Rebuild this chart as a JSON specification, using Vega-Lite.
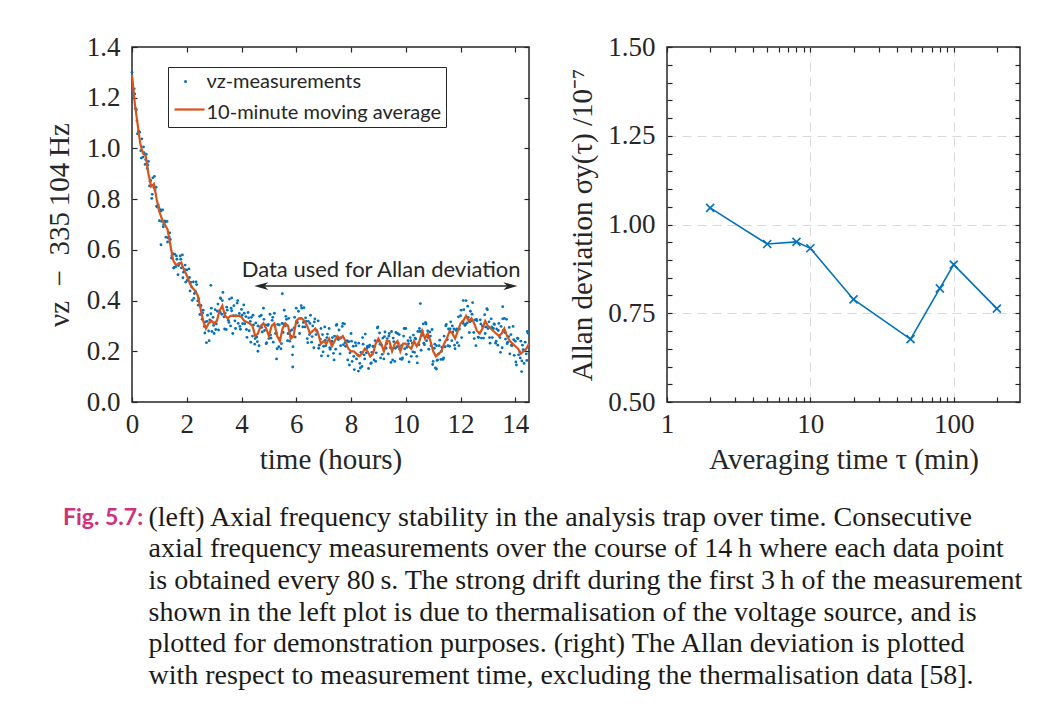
{
  "$schema": "https://vega.github.io/schema/vega-lite/v6.json",
  "background": "white",
  "padding": {"left": 44, "top": 32, "right": 5, "bottom": 5},
  "bounds": "flush",
  "spacing": 138,
  "resolve": {"scale": {"color": "independent", "shape": "independent", "fill": "independent", "stroke": "independent"}},
  "title": {
    "text": [
      "(left) Axial frequency stability in the analysis trap over time.  Consecutive",
      "axial frequency measurements over the course of 14\u2009h where each data point",
      "is obtained every 80\u2009s. The strong drift during the first 3\u2009h of the measurement",
      "shown in the left plot is due to thermalisation of the voltage source, and is",
      "plotted for demonstration purposes.  (right) The Allan deviation is plotted",
      "with respect to measurement time, excluding the thermalisation data [58]."
    ],
    "orient": "bottom",
    "anchor": "start",
    "frame": "bounds",
    "offset": -27,
    "dx": 104,
    "font": "Liberation Serif",
    "fontWeight": "normal",
    "fontSize": 28,
    "lineHeight": 31.6,
    "color": "#1a1a1a"
  },
  "config": {
    "view": {"stroke": "#262626", "strokeWidth": 1.5},
    "axis": {
      "domain": false,
      "grid": false,
      "labelFont": "Liberation Serif",
      "labelFontSize": 27,
      "labelColor": "#262626",
      "titleFont": "Liberation Serif",
      "titleFontSize": 29,
      "titleFontWeight": "normal",
      "titleColor": "#262626",
      "tickColor": "#262626",
      "tickWidth": 1.2,
      "tickSize": -5,
      "labelFlush": false,
      "labelOverlap": false,
      "labelBound": false
    }
  },
  "hconcat": [
    {
      "width": 397,
      "height": 355,
      "title": {"text": "Fig. 5.7:", "orient": "bottom", "anchor": "start", "frame": "group", "dx": -69, "offset": 33,
        "font": "Lato", "fontWeight": "bold", "fontSize": 23, "color": "#D0307A"},
      "resolve": {"axis": {"x": "independent", "y": "independent"}, "scale": {"shape": "independent"}},
      "layer": [
        {
          "data": {"values": [
            {"t":0.00,"v":1.300},{"t":0.04,"v":1.218},{"t":0.08,"v":1.235},{"t":0.12,"v":1.157},{"t":0.16,"v":1.153},{"t":0.20,"v":1.058},{"t":0.24,"v":1.068},{"t":0.28,"v":1.064},{"t":0.32,"v":0.991},{"t":0.36,"v":1.038},
            {"t":0.40,"v":0.966},{"t":0.44,"v":0.983},{"t":0.48,"v":0.937},{"t":0.52,"v":0.977},{"t":0.56,"v":0.921},{"t":0.60,"v":0.949},{"t":0.64,"v":0.852},{"t":0.68,"v":0.874},{"t":0.72,"v":0.803},{"t":0.76,"v":0.884},
            {"t":0.80,"v":0.846},{"t":0.84,"v":0.836},{"t":0.88,"v":0.847},{"t":0.92,"v":0.769},{"t":0.96,"v":0.777},{"t":1.00,"v":0.715},{"t":1.04,"v":0.759},{"t":1.08,"v":0.712},{"t":1.12,"v":0.758},{"t":1.16,"v":0.701},
            {"t":1.20,"v":0.714},{"t":1.24,"v":0.650},{"t":1.28,"v":0.712},{"t":1.32,"v":0.647},{"t":1.36,"v":0.651},{"t":1.40,"v":0.641},{"t":1.44,"v":0.568},{"t":1.48,"v":0.586},{"t":1.52,"v":0.528},{"t":1.56,"v":0.583},
            {"t":1.60,"v":0.533},{"t":1.64,"v":0.563},{"t":1.68,"v":0.502},{"t":1.72,"v":0.546},{"t":1.76,"v":0.576},{"t":1.80,"v":0.529},{"t":1.84,"v":0.580},{"t":1.88,"v":0.512},{"t":1.92,"v":0.523},{"t":1.96,"v":0.473},
            {"t":2.00,"v":0.521},{"t":2.04,"v":0.481},{"t":2.08,"v":0.525},{"t":2.12,"v":0.438},{"t":2.16,"v":0.472},{"t":2.20,"v":0.401},{"t":2.24,"v":0.474},{"t":2.28,"v":0.428},{"t":2.32,"v":0.436},{"t":2.36,"v":0.463},
            {"t":2.40,"v":0.399},{"t":2.44,"v":0.407},{"t":2.48,"v":0.345},{"t":2.52,"v":0.381},{"t":2.56,"v":0.326},{"t":2.60,"v":0.362},{"t":2.64,"v":0.298},{"t":2.68,"v":0.316},{"t":2.72,"v":0.234},{"t":2.76,"v":0.342},
            {"t":2.80,"v":0.280},{"t":2.84,"v":0.324},{"t":2.88,"v":0.348},{"t":2.92,"v":0.278},{"t":2.96,"v":0.334},{"t":3.00,"v":0.270},{"t":3.04,"v":0.364},{"t":3.08,"v":0.308},{"t":3.12,"v":0.358},{"t":3.16,"v":0.284},
            {"t":3.20,"v":0.360},{"t":3.24,"v":0.408},{"t":3.28,"v":0.346},{"t":3.32,"v":0.432},{"t":3.36,"v":0.336},{"t":3.40,"v":0.350},{"t":3.44,"v":0.286},{"t":3.48,"v":0.362},{"t":3.52,"v":0.322},{"t":3.56,"v":0.406},
            {"t":3.60,"v":0.300},{"t":3.64,"v":0.360},{"t":3.68,"v":0.270},{"t":3.72,"v":0.380},{"t":3.76,"v":0.320},{"t":3.80,"v":0.340},{"t":3.84,"v":0.390},{"t":3.88,"v":0.310},{"t":3.92,"v":0.349},{"t":3.96,"v":0.287},
            {"t":4.00,"v":0.365},{"t":4.04,"v":0.309},{"t":4.08,"v":0.383},{"t":4.12,"v":0.309},{"t":4.16,"v":0.337},{"t":4.20,"v":0.255},{"t":4.24,"v":0.353},{"t":4.28,"v":0.281},{"t":4.32,"v":0.318},{"t":4.36,"v":0.334},
            {"t":4.40,"v":0.260},{"t":4.44,"v":0.304},{"t":4.48,"v":0.228},{"t":4.52,"v":0.312},{"t":4.56,"v":0.256},{"t":4.60,"v":0.300},{"t":4.64,"v":0.222},{"t":4.68,"v":0.294},{"t":4.72,"v":0.342},{"t":4.76,"v":0.276},
            {"t":4.80,"v":0.370},{"t":4.84,"v":0.282},{"t":4.88,"v":0.304},{"t":4.92,"v":0.234},{"t":4.96,"v":0.302},{"t":5.00,"v":0.250},{"t":5.04,"v":0.346},{"t":5.08,"v":0.252},{"t":5.12,"v":0.322},{"t":5.16,"v":0.236},
            {"t":5.20,"v":0.350},{"t":5.24,"v":0.270},{"t":5.28,"v":0.270},{"t":5.32,"v":0.306},{"t":5.36,"v":0.218},{"t":5.40,"v":0.250},{"t":5.44,"v":0.210},{"t":5.48,"v":0.310},{"t":5.52,"v":0.274},{"t":5.56,"v":0.362},
            {"t":5.60,"v":0.300},{"t":5.64,"v":0.326},{"t":5.68,"v":0.242},{"t":5.72,"v":0.330},{"t":5.76,"v":0.240},{"t":5.80,"v":0.260},{"t":5.84,"v":0.284},{"t":5.88,"v":0.218},{"t":5.92,"v":0.292},{"t":5.96,"v":0.256},
            {"t":6.00,"v":0.370},{"t":6.04,"v":0.314},{"t":6.08,"v":0.358},{"t":6.12,"v":0.270},{"t":6.16,"v":0.330},{"t":6.20,"v":0.370},{"t":6.24,"v":0.296},{"t":6.28,"v":0.372},{"t":6.32,"v":0.296},{"t":6.36,"v":0.318},
            {"t":6.40,"v":0.250},{"t":6.44,"v":0.318},{"t":6.48,"v":0.266},{"t":6.52,"v":0.342},{"t":6.56,"v":0.236},{"t":6.60,"v":0.300},{"t":6.64,"v":0.214},{"t":6.68,"v":0.328},{"t":6.72,"v":0.266},{"t":6.76,"v":0.278},
            {"t":6.80,"v":0.320},{"t":6.84,"v":0.224},{"t":6.88,"v":0.248},{"t":6.92,"v":0.182},{"t":6.96,"v":0.266},{"t":7.00,"v":0.220},{"t":7.04,"v":0.296},{"t":7.08,"v":0.222},{"t":7.12,"v":0.254},{"t":7.16,"v":0.182},
            {"t":7.20,"v":0.290},{"t":7.24,"v":0.208},{"t":7.28,"v":0.236},{"t":7.32,"v":0.254},{"t":7.36,"v":0.192},{"t":7.40,"v":0.260},{"t":7.44,"v":0.208},{"t":7.48,"v":0.306},{"t":7.52,"v":0.248},{"t":7.56,"v":0.284},
            {"t":7.60,"v":0.190},{"t":7.64,"v":0.254},{"t":7.68,"v":0.298},{"t":7.72,"v":0.226},{"t":7.76,"v":0.308},{"t":7.80,"v":0.220},{"t":7.84,"v":0.238},{"t":7.88,"v":0.166},{"t":7.92,"v":0.238},{"t":7.96,"v":0.194},
            {"t":8.00,"v":0.270},{"t":8.04,"v":0.160},{"t":8.08,"v":0.220},{"t":8.12,"v":0.128},{"t":8.16,"v":0.234},{"t":8.20,"v":0.170},{"t":8.24,"v":0.186},{"t":8.28,"v":0.232},{"t":8.32,"v":0.152},{"t":8.36,"v":0.196},
            {"t":8.40,"v":0.140},{"t":8.44,"v":0.228},{"t":8.48,"v":0.186},{"t":8.52,"v":0.268},{"t":8.56,"v":0.194},{"t":8.60,"v":0.220},{"t":8.64,"v":0.132},{"t":8.68,"v":0.224},{"t":8.72,"v":0.152},{"t":8.76,"v":0.196},
            {"t":8.80,"v":0.220},{"t":8.84,"v":0.166},{"t":8.88,"v":0.242},{"t":8.92,"v":0.194},{"t":8.96,"v":0.292},{"t":9.00,"v":0.240},{"t":9.04,"v":0.272},{"t":9.08,"v":0.174},{"t":9.12,"v":0.224},{"t":9.16,"v":0.252},
            {"t":9.20,"v":0.170},{"t":9.24,"v":0.276},{"t":9.28,"v":0.212},{"t":9.32,"v":0.250},{"t":9.36,"v":0.190},{"t":9.40,"v":0.270},{"t":9.44,"v":0.214},{"t":9.48,"v":0.278},{"t":9.52,"v":0.166},{"t":9.56,"v":0.238},
            {"t":9.60,"v":0.160},{"t":9.64,"v":0.274},{"t":9.68,"v":0.218},{"t":9.72,"v":0.232},{"t":9.76,"v":0.266},{"t":9.80,"v":0.170},{"t":9.84,"v":0.222},{"t":9.88,"v":0.174},{"t":9.92,"v":0.260},{"t":9.96,"v":0.210},
            {"t":10.00,"v":0.290},{"t":10.04,"v":0.216},{"t":10.08,"v":0.242},{"t":10.12,"v":0.158},{"t":10.16,"v":0.254},{"t":10.20,"v":0.180},{"t":10.24,"v":0.232},{"t":10.28,"v":0.264},{"t":10.32,"v":0.196},{"t":10.36,"v":0.248},
            {"t":10.40,"v":0.180},{"t":10.44,"v":0.278},{"t":10.48,"v":0.226},{"t":10.52,"v":0.278},{"t":10.56,"v":0.204},{"t":10.60,"v":0.280},{"t":10.64,"v":0.308},{"t":10.68,"v":0.226},{"t":10.72,"v":0.314},{"t":10.76,"v":0.242},
            {"t":10.80,"v":0.280},{"t":10.84,"v":0.208},{"t":10.88,"v":0.276},{"t":10.92,"v":0.222},{"t":10.96,"v":0.286},{"t":11.00,"v":0.160},{"t":11.04,"v":0.212},{"t":11.08,"v":0.134},{"t":11.12,"v":0.222},{"t":11.16,"v":0.166},
            {"t":11.20,"v":0.190},{"t":11.24,"v":0.244},{"t":11.28,"v":0.168},{"t":11.32,"v":0.216},{"t":11.36,"v":0.168},{"t":11.40,"v":0.260},{"t":11.44,"v":0.218},{"t":11.48,"v":0.306},{"t":11.52,"v":0.246},{"t":11.56,"v":0.288},
            {"t":11.60,"v":0.220},{"t":11.64,"v":0.316},{"t":11.68,"v":0.242},{"t":11.72,"v":0.276},{"t":11.76,"v":0.288},{"t":11.80,"v":0.210},{"t":11.84,"v":0.282},{"t":11.88,"v":0.234},{"t":11.92,"v":0.336},{"t":11.96,"v":0.288},
            {"t":12.00,"v":0.340},{"t":12.04,"v":0.254},{"t":12.08,"v":0.318},{"t":12.12,"v":0.364},{"t":12.16,"v":0.302},{"t":12.20,"v":0.400},{"t":12.24,"v":0.312},{"t":12.28,"v":0.334},{"t":12.32,"v":0.274},{"t":12.36,"v":0.358},
            {"t":12.40,"v":0.320},{"t":12.44,"v":0.392},{"t":12.48,"v":0.274},{"t":12.52,"v":0.324},{"t":12.56,"v":0.222},{"t":12.60,"v":0.320},{"t":12.64,"v":0.256},{"t":12.68,"v":0.272},{"t":12.72,"v":0.324},{"t":12.76,"v":0.252},
            {"t":12.80,"v":0.300},{"t":12.84,"v":0.252},{"t":12.88,"v":0.344},{"t":12.92,"v":0.296},{"t":12.96,"v":0.368},{"t":13.00,"v":0.290},{"t":13.04,"v":0.316},{"t":13.08,"v":0.232},{"t":13.12,"v":0.328},{"t":13.16,"v":0.254},
            {"t":13.20,"v":0.290},{"t":13.24,"v":0.306},{"t":13.28,"v":0.232},{"t":13.32,"v":0.288},{"t":13.36,"v":0.224},{"t":13.40,"v":0.310},{"t":13.44,"v":0.254},{"t":13.48,"v":0.298},{"t":13.52,"v":0.214},{"t":13.56,"v":0.282},
            {"t":13.60,"v":0.330},{"t":13.64,"v":0.248},{"t":13.68,"v":0.326},{"t":13.72,"v":0.236},{"t":13.76,"v":0.258},{"t":13.80,"v":0.190},{"t":13.84,"v":0.266},{"t":13.88,"v":0.222},{"t":13.92,"v":0.298},{"t":13.96,"v":0.184},
            {"t":14.00,"v":0.240},{"t":14.04,"v":0.146},{"t":14.08,"v":0.252},{"t":14.12,"v":0.186},{"t":14.16,"v":0.198},{"t":14.20,"v":0.240},{"t":14.24,"v":0.162},{"t":14.28,"v":0.206},{"t":14.32,"v":0.152},{"t":14.36,"v":0.236},
            {"t":14.40,"v":0.190},{"t":14.44,"v":0.278},{"t":14.48,"v":0.216},
            {"t":0.02,"v":1.247},{"t":0.10,"v":1.215},{"t":0.18,"v":1.109},{"t":0.26,"v":1.066},{"t":0.34,"v":0.962},{"t":0.42,"v":1.006},{"t":0.50,"v":0.956},{"t":0.58,"v":0.935},{"t":0.66,"v":0.870},{"t":0.74,"v":0.819},
            {"t":0.82,"v":0.890},{"t":0.90,"v":0.772},{"t":0.98,"v":0.767},{"t":1.06,"v":0.753},{"t":1.14,"v":0.691},{"t":1.22,"v":0.710},{"t":1.30,"v":0.631},{"t":1.38,"v":0.667},{"t":1.46,"v":0.577},{"t":1.54,"v":0.531},
            {"t":1.62,"v":0.576},{"t":1.70,"v":0.538},{"t":1.78,"v":0.563},{"t":1.86,"v":0.490},{"t":1.94,"v":0.540},{"t":2.02,"v":0.480},{"t":2.10,"v":0.491},{"t":2.18,"v":0.454},{"t":2.26,"v":0.409},{"t":2.34,"v":0.474},
            {"t":2.42,"v":0.382},{"t":2.50,"v":0.377},{"t":2.58,"v":0.351},{"t":2.66,"v":0.272},{"t":2.74,"v":0.318},{"t":2.82,"v":0.242},{"t":2.90,"v":0.370},{"t":2.98,"v":0.302},{"t":3.06,"v":0.286},{"t":3.14,"v":0.386},
            {"t":3.22,"v":0.354},{"t":3.30,"v":0.400},{"t":3.38,"v":0.288},{"t":3.46,"v":0.374},{"t":3.54,"v":0.314},{"t":3.62,"v":0.370},{"t":3.70,"v":0.340},{"t":3.78,"v":0.290},{"t":3.86,"v":0.400},{"t":3.94,"v":0.298},
            {"t":4.02,"v":0.342},{"t":4.10,"v":0.350},{"t":4.18,"v":0.286},{"t":4.26,"v":0.332},{"t":4.34,"v":0.236},{"t":4.42,"v":0.342},{"t":4.50,"v":0.250},{"t":4.58,"v":0.238},{"t":4.66,"v":0.338},{"t":4.74,"v":0.294},
            {"t":4.82,"v":0.326},{"t":4.90,"v":0.230},{"t":4.98,"v":0.306},{"t":5.06,"v":0.264},{"t":5.14,"v":0.334},{"t":5.22,"v":0.300},{"t":5.30,"v":0.210},{"t":5.38,"v":0.304},{"t":5.46,"v":0.230},{"t":5.54,"v":0.308},
            {"t":5.62,"v":0.338},{"t":5.70,"v":0.270},{"t":5.78,"v":0.280},{"t":5.86,"v":0.186},{"t":5.94,"v":0.334},{"t":6.02,"v":0.312},{"t":6.10,"v":0.300},{"t":6.18,"v":0.380},{"t":6.26,"v":0.314},{"t":6.34,"v":0.332},
            {"t":6.42,"v":0.234},{"t":6.50,"v":0.310},{"t":6.58,"v":0.258},{"t":6.66,"v":0.316},{"t":6.74,"v":0.282},{"t":6.82,"v":0.212},{"t":6.90,"v":0.290},{"t":6.98,"v":0.198},{"t":7.06,"v":0.244},{"t":7.14,"v":0.268},
            {"t":7.22,"v":0.214},{"t":7.30,"v":0.240},{"t":7.38,"v":0.166},{"t":7.46,"v":0.302},{"t":7.54,"v":0.246},{"t":7.62,"v":0.222},{"t":7.70,"v":0.310},{"t":7.78,"v":0.234},{"t":7.86,"v":0.242},{"t":7.94,"v":0.146},
            {"t":8.02,"v":0.240},{"t":8.10,"v":0.180},{"t":8.18,"v":0.222},{"t":8.26,"v":0.184},{"t":8.34,"v":0.134},{"t":8.42,"v":0.254},{"t":8.50,"v":0.170},{"t":8.58,"v":0.212},{"t":8.66,"v":0.218},{"t":8.74,"v":0.154},
            {"t":8.82,"v":0.218},{"t":8.90,"v":0.160},{"t":8.98,"v":0.296},{"t":9.06,"v":0.228},{"t":9.14,"v":0.188},{"t":9.22,"v":0.258},{"t":9.30,"v":0.230},{"t":9.38,"v":0.260},{"t":9.46,"v":0.156},{"t":9.54,"v":0.252},
            {"t":9.62,"v":0.212},{"t":9.70,"v":0.270},{"t":9.78,"v":0.208},{"t":9.86,"v":0.168},{"t":9.94,"v":0.290},{"t":10.02,"v":0.188},{"t":10.10,"v":0.230},{"t":10.18,"v":0.242},{"t":10.26,"v":0.198},{"t":10.34,"v":0.252},
            {"t":10.42,"v":0.154},{"t":10.50,"v":0.290},{"t":10.58,"v":0.262},{"t":10.66,"v":0.232},{"t":10.74,"v":0.308},{"t":10.82,"v":0.254},{"t":10.90,"v":0.260},{"t":10.98,"v":0.148},{"t":11.06,"v":0.228},{"t":11.14,"v":0.164},
            {"t":11.22,"v":0.222},{"t":11.30,"v":0.200},{"t":11.38,"v":0.174},{"t":11.46,"v":0.300},{"t":11.54,"v":0.222},{"t":11.62,"v":0.288},{"t":11.70,"v":0.300},{"t":11.78,"v":0.224},{"t":11.86,"v":0.288},{"t":11.94,"v":0.222},
            {"t":12.02,"v":0.362},{"t":12.10,"v":0.310},{"t":12.18,"v":0.306},{"t":12.26,"v":0.378},{"t":12.34,"v":0.316},{"t":12.42,"v":0.346},{"t":12.50,"v":0.250},{"t":12.58,"v":0.326},{"t":12.66,"v":0.254},{"t":12.74,"v":0.308},
            {"t":12.82,"v":0.296},{"t":12.90,"v":0.270},{"t":12.98,"v":0.364},{"t":13.06,"v":0.254},{"t":13.14,"v":0.296},{"t":13.22,"v":0.308},{"t":13.30,"v":0.240},{"t":13.38,"v":0.282},{"t":13.46,"v":0.196},{"t":13.54,"v":0.328},
            {"t":13.62,"v":0.274},{"t":13.70,"v":0.230},{"t":13.78,"v":0.294},{"t":13.86,"v":0.224},{"t":13.94,"v":0.246},{"t":14.02,"v":0.158},{"t":14.10,"v":0.250},{"t":14.18,"v":0.174},{"t":14.26,"v":0.224},{"t":14.34,"v":0.204},
            {"t":14.42,"v":0.164},
            {"t":2.88,"v":0.460},{"t":5.49,"v":0.427},{"t":5.87,"v":0.138},{"t":14.23,"v":0.120},{"t":8.27,"v":0.122},{"t":13.54,"v":0.376},{"t":10.53,"v":0.388},{"t":12.10,"v":0.400},{"t":5.28,"v":0.170},{"t":4.60,"v":0.200},
            {"t":3.64,"v":0.410},{"t":3.23,"v":0.410},{"t":1.06,"v":0.620},{"t":14.46,"v":0.272},{"t":11.12,"v":0.130}
          ]},
          "mark": {"type": "circle", "size": 8, "opacity": 1},
          "encoding": {
            "x": {"field": "t", "type": "quantitative",
              "scale": {"domain": [0, 14.5], "nice": false, "zero": false},
              "axis": {"orient": "bottom", "values": [0, 2, 4, 6, 8, 10, 12, 14], "format": "d", "title": "time (hours)", "labelPadding": 14, "titlePadding": 8}},
            "y": {"field": "v", "type": "quantitative",
              "scale": {"domain": [0, 1.4], "nice": false, "zero": false},
              "axis": {"orient": "left", "values": [0, 0.2, 0.4, 0.6, 0.8, 1.0, 1.2, 1.4], "format": ".1f", "title": "\u03bdz\u2002\u2212\u2002335\u2009104\u2009Hz", "labelPadding": 17, "titlePadding": 12}},
            "fill": {"datum": "\u03bdz-measurements", "type": "nominal",
              "scale": {"domain": ["\u03bdz-measurements", "10-minute moving average"], "range": ["#0072BD", "transparent"]},
              "legend": {
                "orient": "none", "legendX": 36, "legendY": 20, "title": null, "zindex": 0,
                "fillColor": "white", "strokeColor": "#262626", "padding": 4.5, "rowPadding": 11,
                "labelFont": "Lato", "labelFontSize": 20, "labelColor": "#262626", "labelLimit": 0,
                "symbolType": "circle", "symbolSize": 9, "symbolOffset": 3, "labelOffset": 11,
                "symbolStrokeWidth": 0, "symbolOpacity": 1
              }}
          }
        },
        {
          "data": {"values": [
            {"t":0.0,"v":1.29},{"t":0.1,"v":1.18},{"t":0.2,"v":1.10},{"t":0.3,"v":1.02},{"t":0.4,"v":0.98},{"t":0.5,"v":0.97},{"t":0.6,"v":0.90},{"t":0.7,"v":0.85},{"t":0.8,"v":0.86},{"t":0.9,"v":0.80},
            {"t":1.0,"v":0.75},{"t":1.1,"v":0.72},{"t":1.2,"v":0.70},{"t":1.3,"v":0.68},{"t":1.4,"v":0.62},{"t":1.5,"v":0.56},{"t":1.6,"v":0.54},{"t":1.7,"v":0.545},{"t":1.8,"v":0.55},{"t":1.9,"v":0.52},
            {"t":2.0,"v":0.50},{"t":2.1,"v":0.47},{"t":2.2,"v":0.45},{"t":2.3,"v":0.44},{"t":2.4,"v":0.42},{"t":2.5,"v":0.37},{"t":2.6,"v":0.32},{"t":2.7,"v":0.29},{"t":2.8,"v":0.31},{"t":2.9,"v":0.32},
            {"t":3.0,"v":0.31},{"t":3.1,"v":0.32},{"t":3.2,"v":0.36},{"t":3.3,"v":0.38},{"t":3.4,"v":0.34},{"t":3.5,"v":0.33},{"t":3.6,"v":0.34},{"t":3.7,"v":0.34},{"t":3.8,"v":0.34},{"t":3.9,"v":0.34},
            {"t":4.0,"v":0.335},{"t":4.1,"v":0.32},{"t":4.2,"v":0.315},{"t":4.3,"v":0.31},{"t":4.4,"v":0.30},{"t":4.5,"v":0.26},{"t":4.6,"v":0.27},{"t":4.7,"v":0.30},{"t":4.8,"v":0.31},{"t":4.9,"v":0.29},
            {"t":5.0,"v":0.26},{"t":5.1,"v":0.30},{"t":5.2,"v":0.31},{"t":5.3,"v":0.26},{"t":5.4,"v":0.24},{"t":5.5,"v":0.29},{"t":5.6,"v":0.31},{"t":5.7,"v":0.30},{"t":5.8,"v":0.25},{"t":5.9,"v":0.26},
            {"t":6.0,"v":0.32},{"t":6.1,"v":0.33},{"t":6.2,"v":0.33},{"t":6.3,"v":0.32},{"t":6.4,"v":0.30},{"t":6.5,"v":0.27},{"t":6.6,"v":0.28},{"t":6.7,"v":0.29},{"t":6.8,"v":0.27},{"t":6.9,"v":0.23},
            {"t":7.0,"v":0.24},{"t":7.1,"v":0.23},{"t":7.2,"v":0.25},{"t":7.3,"v":0.22},{"t":7.4,"v":0.24},{"t":7.5,"v":0.26},{"t":7.6,"v":0.25},{"t":7.7,"v":0.26},{"t":7.8,"v":0.24},{"t":7.9,"v":0.21},
            {"t":8.0,"v":0.20},{"t":8.1,"v":0.20},{"t":8.2,"v":0.19},{"t":8.3,"v":0.18},{"t":8.4,"v":0.19},{"t":8.5,"v":0.21},{"t":8.6,"v":0.20},{"t":8.7,"v":0.18},{"t":8.8,"v":0.19},{"t":8.9,"v":0.23},
            {"t":9.0,"v":0.25},{"t":9.1,"v":0.23},{"t":9.2,"v":0.20},{"t":9.3,"v":0.24},{"t":9.4,"v":0.24},{"t":9.5,"v":0.20},{"t":9.6,"v":0.23},{"t":9.7,"v":0.24},{"t":9.8,"v":0.20},{"t":9.9,"v":0.23},
            {"t":10.0,"v":0.23},{"t":10.1,"v":0.22},{"t":10.2,"v":0.21},{"t":10.3,"v":0.24},{"t":10.4,"v":0.22},{"t":10.5,"v":0.24},{"t":10.6,"v":0.28},{"t":10.7,"v":0.25},{"t":10.8,"v":0.27},{"t":10.9,"v":0.24},
            {"t":11.0,"v":0.20},{"t":11.1,"v":0.18},{"t":11.2,"v":0.19},{"t":11.3,"v":0.20},{"t":11.4,"v":0.23},{"t":11.5,"v":0.25},{"t":11.6,"v":0.28},{"t":11.7,"v":0.27},{"t":11.8,"v":0.25},{"t":11.9,"v":0.28},
            {"t":12.0,"v":0.31},{"t":12.1,"v":0.32},{"t":12.2,"v":0.34},{"t":12.3,"v":0.32},{"t":12.4,"v":0.33},{"t":12.5,"v":0.31},{"t":12.6,"v":0.28},{"t":12.7,"v":0.27},{"t":12.8,"v":0.29},{"t":12.9,"v":0.32},
            {"t":13.0,"v":0.30},{"t":13.1,"v":0.29},{"t":13.2,"v":0.28},{"t":13.3,"v":0.27},{"t":13.4,"v":0.26},{"t":13.5,"v":0.27},{"t":13.6,"v":0.29},{"t":13.7,"v":0.26},{"t":13.8,"v":0.24},{"t":13.9,"v":0.23},
            {"t":14.0,"v":0.22},{"t":14.1,"v":0.21},{"t":14.2,"v":0.19},{"t":14.3,"v":0.20},{"t":14.4,"v":0.21},{"t":14.5,"v":0.23}
          ]},
          "mark": {"type": "line", "strokeWidth": 2.2},
          "encoding": {
            "x": {"field": "t", "type": "quantitative",
              "axis": {"orient": "top", "values": [0, 2, 4, 6, 8, 10, 12, 14], "labels": false, "title": null}},
            "y": {"field": "v", "type": "quantitative",
              "axis": {"orient": "right", "values": [0, 0.2, 0.4, 0.6, 0.8, 1.0, 1.2, 1.4], "labels": false, "title": null}},
            "stroke": {"datum": "10-minute moving average", "type": "nominal",
              "scale": {"domain": ["10-minute moving average"], "range": ["#D95319"]},
              "legend": {
                "orient": "none", "legendX": 41, "legendY": 46, "title": null, "zindex": 1,
                "padding": 0, "labelExpr": "''", "labelFontSize": 20,
                "symbolType": "stroke", "symbolSize": 900, "symbolStrokeWidth": 2.2, "symbolOpacity": 1
              }}
          }
        },
        {
          "data": {"values": [{"t": 9.1, "v": 0.52, "label": "Data used for Allan deviation"}]},
          "mark": {"type": "text", "font": "Lato", "fontSize": 22, "color": "#262626", "align": "center", "baseline": "middle"},
          "encoding": {
            "x": {"field": "t", "type": "quantitative", "axis": null},
            "y": {"field": "v", "type": "quantitative", "axis": null},
            "text": {"field": "label"}
          }
        },
        {
          "data": {"values": [{"t1": 4.6, "t2": 13.95, "v": 0.457}]},
          "mark": {"type": "rule", "color": "#262626", "strokeWidth": 1.5},
          "encoding": {
            "x": {"field": "t1", "type": "quantitative", "axis": null},
            "x2": {"field": "t2"},
            "y": {"field": "v", "type": "quantitative", "axis": null}
          }
        },
        {
          "data": {"values": [{"t": 4.72, "v": 0.457, "dir": "left"}, {"t": 13.82, "v": 0.457, "dir": "right"}]},
          "mark": {"type": "point", "filled": true, "size": 196, "color": "#262626", "opacity": 1},
          "encoding": {
            "x": {"field": "t", "type": "quantitative", "axis": null},
            "y": {"field": "v", "type": "quantitative", "axis": null},
            "shape": {"field": "dir", "type": "nominal", "legend": null,
              "scale": {"domain": ["left", "right"], "range": ["M-1,0L1,-0.55L0.45,0L1,0.55Z", "M1,0L-1,-0.55L-0.45,0L-1,0.55Z"]}}
          }
        }
      ]
    },
    {
      "width": 353,
      "height": 355,
      "data": {"values": [
        {"tau": 2, "sigma": 1.047}, {"tau": 5, "sigma": 0.945}, {"tau": 8, "sigma": 0.951}, {"tau": 10, "sigma": 0.933},
        {"tau": 20, "sigma": 0.789}, {"tau": 50, "sigma": 0.677}, {"tau": 80, "sigma": 0.820}, {"tau": 100, "sigma": 0.887}, {"tau": 200, "sigma": 0.763}
      ]},
      "resolve": {"axis": {"x": "independent", "y": "independent"}},
      "layer": [
        {
          "mark": {"type": "line", "color": "#0072BD", "strokeWidth": 1.6},
          "encoding": {
            "x": {"field": "tau", "type": "quantitative",
              "scale": {"type": "log", "domain": [1, 290], "nice": false},
              "axis": {"orient": "bottom", "values": [1, 2, 3, 4, 5, 6, 7, 8, 9, 10, 20, 30, 40, 50, 60, 70, 80, 90, 100, 200],
                "labelExpr": "datum.value == 1 || datum.value == 10 || datum.value == 100 ? format(datum.value, 'd') : ''",
                "title": "Averaging time \u03c4 (min)", "labelPadding": 14, "titlePadding": 8,
                "grid": true, "gridColor": "#d9d9d9", "gridDash": [9, 6], "gridWidth": 1,
                "gridOpacity": {"condition": {"test": "datum.value == 10 || datum.value == 100", "value": 1}, "value": 0}}},
            "y": {"field": "sigma", "type": "quantitative",
              "scale": {"domain": [0.5, 1.5], "nice": false, "zero": false},
              "axis": {"orient": "left", "values": [0.5, 0.55, 0.6, 0.65, 0.7, 0.75, 0.8, 0.85, 0.9, 0.95, 1.0, 1.05, 1.1, 1.15, 1.2, 1.25, 1.3, 1.35, 1.4, 1.45, 1.5],
                "labelExpr": "abs(datum.value * 4 - round(datum.value * 4)) < 0.000001 ? format(datum.value, '.2f') : ''",
                "title": "Allan deviation \u03c3y(\u03c4) /10\u207b\u2077", "labelPadding": 17, "titlePadding": 10,
                "grid": true, "gridColor": "#d9d9d9", "gridDash": [9, 6], "gridWidth": 1,
                "gridOpacity": {"condition": {"test": "abs(datum.value * 4 - round(datum.value * 4)) < 0.000001 && datum.value > 0.6 && datum.value < 1.4", "value": 1}, "value": 0}}}
          }
        },
        {
          "mark": {"type": "point", "shape": "M-1,-1L1,1M-1,1L1,-1", "filled": false, "size": 64, "color": "#0072BD", "strokeWidth": 1.6, "opacity": 1},
          "encoding": {
            "x": {"field": "tau", "type": "quantitative",
              "axis": {"orient": "top", "values": [1, 2, 3, 4, 5, 6, 7, 8, 9, 10, 20, 30, 40, 50, 60, 70, 80, 90, 100, 200], "labels": false, "title": null}},
            "y": {"field": "sigma", "type": "quantitative",
              "axis": {"orient": "right", "values": [0.5, 0.55, 0.6, 0.65, 0.7, 0.75, 0.8, 0.85, 0.9, 0.95, 1.0, 1.05, 1.1, 1.15, 1.2, 1.25, 1.3, 1.35, 1.4, 1.45, 1.5], "labels": false, "title": null}}
          }
        }
      ]
    }
  ]
}
